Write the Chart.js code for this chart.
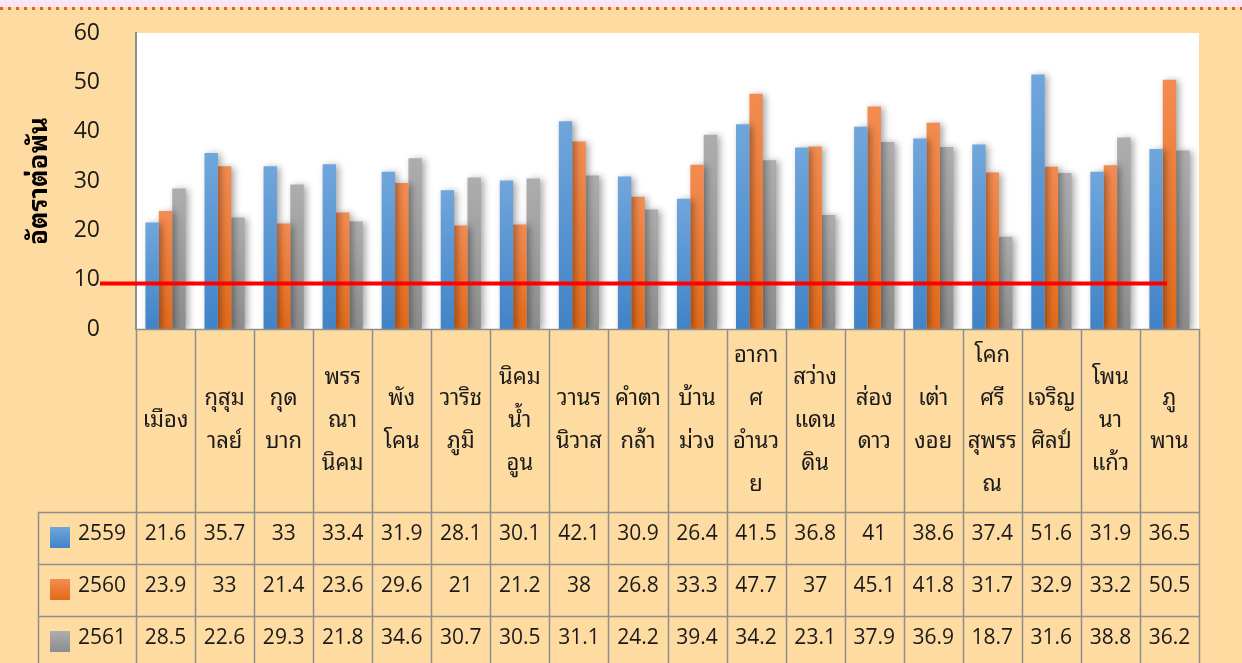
<!DOCTYPE html>
<html>
<head>
<meta charset="utf-8">
<script src="https://cdn.jsdelivr.net/npm/chart.js@4"></script>
<style>
  html, body { margin: 0; padding: 0; background: #FDDBA1; }
  #wrap { width: 1242px; height: 663px; position: relative; }
</style>
</head>
<body>
<div id="wrap"><canvas id="rateChart" width="1242" height="663"></canvas></div>
<script>
// districts, one line of the label per entry
const districts = [
  ["เมือง"], ["กุสุม", "าลย์"], ["กุด", "บาก"], ["พรร", "ณา", "นิคม"], ["พัง", "โคน"],
  ["วาริช", "ภูมิ"], ["นิคม", "น้ำ", "อูน"], ["วานร", "นิวาส"], ["คำตา", "กล้า"], ["บ้าน", "ม่วง"],
  ["อากา", "ศ", "อำนว", "ย"], ["สว่าง", "แดน", "ดิน"], ["ส่อง", "ดาว"], ["เต่า", "งอย"],
  ["โคก", "ศรี", "สุพรร", "ณ"], ["เจริญ", "ศิลป์"], ["โพน", "นา", "แก้ว"], ["ภู", "พาน"]
];
const years = ["2559", "2560", "2561"];
const rate2559 = [21.6, 35.7, 33, 33.4, 31.9, 28.1, 30.1, 42.1, 30.9, 26.4, 41.5, 36.8, 41, 38.6, 37.4, 51.6, 31.9, 36.5];
const rate2560 = [23.9, 33, 21.4, 23.6, 29.6, 21, 21.2, 38, 26.8, 33.3, 47.7, 37, 45.1, 41.8, 31.7, 32.9, 33.2, 50.5];
const rate2561 = [28.5, 22.6, 29.3, 21.8, 34.6, 30.7, 30.5, 31.1, 24.2, 39.4, 34.2, 23.1, 37.9, 36.9, 18.7, 31.6, 38.8, 36.2];
const yTicks = [0, 10, 20, 30, 40, 50, 60];
const target = 9.2;

const FONT = "'Open Sans', 'Noto Sans Thai Looped', 'Loma', 'Garuda', 'Noto Sans Thai', sans-serif";
const colorsTop = ["#70A6DC", "#F38C52", "#ADADAD"];
const colorsBottom = ["#4183C7", "#E26A1A", "#8D8D8D"];

function barGradient(ctx, top, bottom, i) {
  const g = ctx.createLinearGradient(0, top, 0, bottom);
  g.addColorStop(0, colorsTop[i]);
  g.addColorStop(1, colorsBottom[i]);
  return g;
}

function barFill(i) {
  return function (c) {
    const chart = c.chart;
    const area = chart.chartArea;
    if (!area || c.raw == null) return colorsTop[i];
    const top = chart.scales.y.getPixelForValue(c.raw);
    return barGradient(chart.ctx, top, area.bottom, i);
  };
}

const pagePlugin = {
  id: "page",
  beforeDraw(chart) {
    const ctx = chart.ctx;
    const a = chart.chartArea;
    ctx.save();
    ctx.fillStyle = "#FDDBA1";
    ctx.fillRect(0, 0, chart.width, chart.height);
    ctx.fillStyle = "#FCE3F6";
    ctx.fillRect(0, 0, chart.width, 7);
    ctx.strokeStyle = "#D0682A";
    ctx.lineWidth = 3;
    ctx.setLineDash([3, 5]);
    ctx.beginPath();
    ctx.moveTo(0, 8.5);
    ctx.lineTo(chart.width, 8.5);
    ctx.stroke();
    ctx.setLineDash([]);
    ctx.fillStyle = "#FFFFFF";
    ctx.fillRect(a.left, a.top, a.right - a.left, a.bottom - a.top);
    ctx.restore();
  },
  beforeDatasetsDraw(chart) {
    const ctx = chart.ctx;
    ctx.save();
    ctx.shadowColor = "rgba(0,0,0,0.35)";
    ctx.shadowBlur = 7;
    ctx.shadowOffsetX = 3;
    ctx.shadowOffsetY = 1;
  },
  afterDatasetsDraw(chart) {
    const ctx = chart.ctx;
    ctx.restore();
    // target line
    const y = chart.scales.y.getPixelForValue(target);
    ctx.save();
    ctx.strokeStyle = "#FF0000";
    ctx.lineWidth = 4;
    ctx.beginPath();
    ctx.moveTo(100, y);
    ctx.lineTo(1167, y);
    ctx.stroke();
    ctx.restore();
  },
  afterDraw(chart) {
    const ctx = chart.ctx;
    const a = chart.chartArea;
    const x = chart.scales.x;
    const step = (a.right - a.left) / districts.length;
    const headBottom = 512;
    const rowH = 52;
    const series = [rate2559, rate2560, rate2561];
    ctx.save();
    ctx.strokeStyle = "#8E8E8E";
    ctx.lineWidth = 1.5;
    // vertical lines
    for (let i = 0; i <= districts.length; i++) {
      const px = Math.round(a.left + i * step) + 0.5;
      ctx.beginPath();
      ctx.moveTo(px, a.bottom);
      ctx.lineTo(px, chart.height);
      ctx.stroke();
    }
    // horizontal lines
    ctx.beginPath();
    ctx.moveTo(a.left, a.bottom + 0.5);
    ctx.lineTo(a.right, a.bottom + 0.5);
    ctx.stroke();
    for (let r = 0; r < 3; r++) {
      const py = headBottom + r * rowH + 0.5;
      ctx.beginPath();
      ctx.moveTo(38, py);
      ctx.lineTo(a.right, py);
      ctx.stroke();
    }
    ctx.beginPath();
    ctx.moveTo(38.5, headBottom);
    ctx.lineTo(38.5, chart.height);
    ctx.stroke();

    ctx.fillStyle = "#1A1A1A";
    ctx.textAlign = "center";
    ctx.textBaseline = "middle";
    // category labels
    ctx.font = "22px " + FONT;
    const lineH = 43;
    const mid = (a.bottom + headBottom) / 2;
    districts.forEach((lines, i) => {
      const cx = x.getPixelForValue(i);
      const y0 = mid - (lines.length - 1) * lineH / 2;
      lines.forEach((t, k) => ctx.fillText(t, cx, y0 + k * lineH));
    });
    // values
    ctx.font = "21px " + FONT;
    series.forEach((vals, r) => {
      const cy = headBottom + r * rowH + 22;
      vals.forEach((v, i) => ctx.fillText(String(v), x.getPixelForValue(i), cy));
    });
    // legend keys
    years.forEach((yr, r) => {
      const top = headBottom + r * rowH + 15;
      ctx.fillStyle = barGradient(ctx, top, top + 21, r);
      ctx.fillRect(50, top, 20, 21);
      ctx.fillStyle = "#1A1A1A";
      ctx.textAlign = "left";
      ctx.fillText(yr, 78, headBottom + r * rowH + 22);
    });
    ctx.restore();
  }
};

new Chart(document.getElementById("rateChart"), {
  type: "bar",
  data: {
    labels: districts.map(l => l.join("")),
    datasets: [
      { label: years[0], data: rate2559, backgroundColor: barFill(0) },
      { label: years[1], data: rate2560, backgroundColor: barFill(1) },
      { label: years[2], data: rate2561, backgroundColor: barFill(2) }
    ]
  },
  options: {
    responsive: false,
    animation: false,
    layout: { padding: { top: 33, right: 43, left: 0, bottom: 0 } },
    datasets: { bar: { categoryPercentage: 0.68, barPercentage: 1.0 } },
    plugins: { legend: { display: false }, tooltip: { enabled: false } },
    scales: {
      x: {
        ticks: { display: false },
        grid: { display: false, drawTicks: false },
        border: { display: false },
        afterFit: s => { s.height = 334; s.paddingLeft = 0; s.paddingRight = 0; }
      },
      y: {
        min: 0,
        max: 60,
        afterBuildTicks: s => { s.ticks = yTicks.map(v => ({ value: v })); },
        ticks: { padding: 36, color: "#1A1A1A", font: { family: FONT, size: 23 } },
        grid: { display: false, drawTicks: false },
        border: { display: true, color: "#8E8E8E", width: 2 },
        title: {
          display: true,
          text: "อัตราต่อพัน",
          color: "#000000",
          font: { family: FONT, size: 26, weight: "bold" },
          padding: { top: 24, bottom: 0 }
        },
        afterFit: s => { s.width = 136; s.paddingTop = 0; s.paddingBottom = 0; }
      }
    }
  },
  plugins: [pagePlugin]
});
</script>
</body>
</html>
